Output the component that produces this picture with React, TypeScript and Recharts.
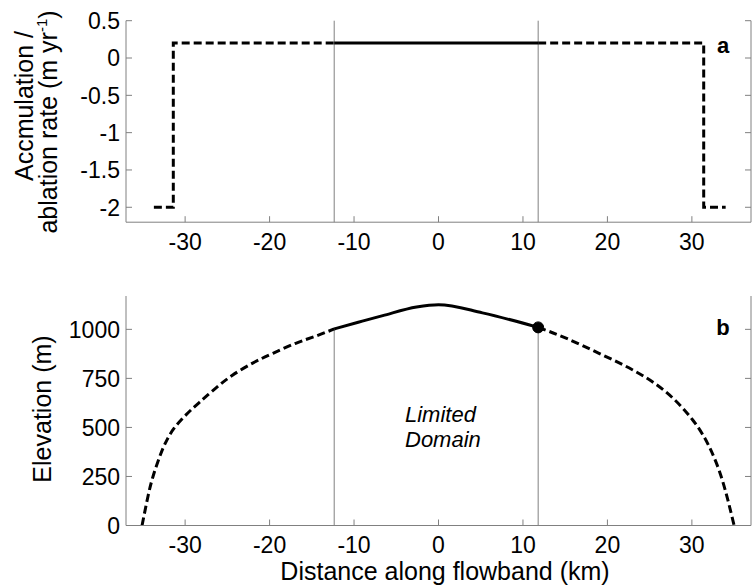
import React from 'react';
import { LineChart, Line, XAxis, YAxis, ReferenceLine, ReferenceDot } from 'recharts';

const GRAY = '#808080';
const FONT = '"Liberation Sans", Arial, Helvetica, sans-serif';

// ---- tick labels ----
const xTicks = [-30, -20, -10, 0, 10, 20, 30];
const accTicks = [-2, -1.5, -1, -0.5, 0, 0.5];
const elevTicks = [0, 250, 500, 750, 1000];

// ---- limited domain edges (km) ----
const domainEdges = [-12.35, 11.8];

// ---- panel a: accumulation / ablation rate ----
const accLeftX = [-33.7, -31.4, -31.4, -12.35];
const accLeftY = [-2, -2, 0.2, 0.2];
const accMidX = [-12.35, 11.8];
const accMidY = [0.2, 0.2];
const accRightX = [11.8, 31.4, 31.4, 34];
const accRightY = [0.2, 0.2, -2, -2];

// ---- panel b: elevation profile ----
const elevLeftX = [-35.1, -34.4, -33.8, -33.0, -32.25, -31.3, -29.9, -28.3, -26.3, -24.4, -22.0, -19.6, -16.9, -14.5, -12.35];
const elevLeftE = [0, 148, 250, 352, 428, 496, 564, 628, 703, 766, 828, 878, 929, 966, 1002];
const elevMidX = [-12.35, -9.5, -6.6, -2.6, 0, 5.2, 11.8];
const elevMidE = [1002, 1036, 1070, 1114, 1126, 1084, 1010];
const elevRightX = [11.8, 15.1, 19.0, 23.0, 26.9, 30.1, 32.05, 33.6, 35.0];
const elevRightE = [1010, 955, 878, 793, 682, 538, 402, 232, 0];

const zip = (xs: number[], ys: number[]) => xs.map((x, i) => ({ x, y: ys[i] }));

const TICK_FS = 23;

const BottomTick = (props: any) => {
  const { x, y, payload } = props;
  return (
    <g>
      <line x1={x} y1={y} x2={x} y2={y - 6} stroke={GRAY} strokeWidth={1} />
      <text x={x} y={y + 27.5} textAnchor="middle" fontSize={TICK_FS} fontFamily={FONT} fill="#000">
        {String(payload.value)}
      </text>
    </g>
  );
};
const TopTick = (props: any) => {
  const { x, y } = props;
  return <line x1={x} y1={y} x2={x} y2={y + 6} stroke={GRAY} strokeWidth={1} />;
};
const LeftTick = (props: any) => {
  const { x, y, payload } = props;
  return (
    <g>
      <line x1={x} y1={y} x2={x + 6} y2={y} stroke={GRAY} strokeWidth={1} />
      <text x={x - 6} y={y + 8.3} textAnchor="end" fontSize={TICK_FS} fontFamily={FONT} fill="#000">
        {String(payload.value)}
      </text>
    </g>
  );
};
const RightTick = (props: any) => {
  const { x, y } = props;
  return <line x1={x} y1={y} x2={x - 6} y2={y} stroke={GRAY} strokeWidth={1} />;
};

const axisLine = { stroke: GRAY, strokeWidth: 1 };

export default function App() {
  const lineStyle = { stroke: '#000', strokeWidth: 3, dot: false as const, isAnimationActive: false };
  return (
    <div style={{ position: 'absolute', left: 0, top: 0, width: 752, height: 587, background: '#fff', fontFamily: FONT }}>
      <div style={{ position: 'absolute', left: 0, top: 0 }}>
        <LineChart width={752} height={262} margin={{ top: 20.7, right: 0, bottom: 0, left: 0 }}>
          <XAxis type="number" dataKey="x" domain={[-37, 37]} ticks={xTicks} interval={0} allowDataOverflow
            height={39.8} tickSize={0} tickMargin={0} tickLine={false} axisLine={axisLine} tick={BottomTick} />
          <XAxis xAxisId="top" orientation="top" type="number" dataKey="x" domain={[-37, 37]} ticks={xTicks} interval={0} allowDataOverflow
            height={0} tickSize={0} tickMargin={0} tickLine={false} axisLine={axisLine} tick={TopTick} />
          <YAxis type="number" domain={[-2.2, 0.5]} ticks={accTicks} interval={0} allowDataOverflow
            width={126} tickSize={0} tickMargin={0} tickLine={false} axisLine={axisLine} tick={LeftTick} />
          <YAxis yAxisId="right" orientation="right" type="number" domain={[-2.2, 0.5]} ticks={accTicks} interval={0} allowDataOverflow
            width={1} tickSize={0} tickMargin={0} tickLine={false} axisLine={axisLine} tick={RightTick} />
          <ReferenceLine x={domainEdges[0]} stroke={GRAY} strokeWidth={1} />
          <ReferenceLine x={domainEdges[1]} stroke={GRAY} strokeWidth={1} />
          <Line data={zip(accLeftX, accLeftY)} dataKey="y" type="linear" strokeDasharray="8 4" {...lineStyle} />
          <Line data={zip(accMidX, accMidY)} dataKey="y" type="linear" {...lineStyle} />
          <Line data={zip(accRightX, accRightY)} dataKey="y" type="linear" strokeDasharray="8 4" {...lineStyle} />
        </LineChart>
      </div>
      <div style={{ position: 'absolute', left: 0, top: 262 }}>
        <LineChart width={752} height={325} margin={{ top: 34, right: 0, bottom: 0, left: 0 }}>
          <XAxis type="number" dataKey="x" domain={[-37, 37]} ticks={xTicks} interval={0} allowDataOverflow
            height={61.5} tickSize={0} tickMargin={0} tickLine={false} axisLine={axisLine} tick={BottomTick} />
          <XAxis xAxisId="top" orientation="top" type="number" dataKey="x" domain={[-37, 37]} ticks={xTicks} interval={0} allowDataOverflow
            height={0} tickSize={0} tickMargin={0} tickLine={false} axisLine={axisLine} tick={TopTick} />
          <YAxis type="number" domain={[0, 1170]} ticks={elevTicks} interval={0} allowDataOverflow
            width={126} tickSize={0} tickMargin={0} tickLine={false} axisLine={axisLine} tick={LeftTick} />
          <YAxis yAxisId="right" orientation="right" type="number" domain={[0, 1170]} ticks={elevTicks} interval={0} allowDataOverflow
            width={1} tickSize={0} tickMargin={0} tickLine={false} axisLine={axisLine} tick={RightTick} />
          <ReferenceLine segment={[{ x: domainEdges[0], y: 0 }, { x: domainEdges[0], y: elevMidE[0] }]} stroke={GRAY} strokeWidth={1} />
          <ReferenceLine segment={[{ x: domainEdges[1], y: 0 }, { x: domainEdges[1], y: elevRightE[0] }]} stroke={GRAY} strokeWidth={1} />
          <Line data={zip(elevLeftX, elevLeftE)} dataKey="y" type="natural" strokeDasharray="8 4" {...lineStyle} />
          <Line data={zip(elevMidX, elevMidE)} dataKey="y" type="monotone" {...lineStyle} />
          <Line data={zip(elevRightX, elevRightE)} dataKey="y" type="natural" strokeDasharray="8 4" {...lineStyle} />
          <ReferenceDot x={elevRightX[0]} y={elevRightE[0]} r={5.5} fill="#000" stroke="#000" />
        </LineChart>
      </div>
      <svg width={752} height={587} style={{ position: 'absolute', left: 0, top: 0, pointerEvents: 'none' }}>
        <g fontFamily={FONT} fill="#000">
          <text transform="translate(33,106) rotate(-90)" textAnchor="middle" fontSize={25}>Accmulation /</text>
          <text transform="translate(57,122) rotate(-90)" textAnchor="middle" fontSize={25}>
            ablation rate (m yr<tspan dy={-10} fontSize={15}>-1</tspan><tspan dy={10}>)</tspan>
          </text>
          <text transform="translate(51,409) rotate(-90)" textAnchor="middle" fontSize={25}>Elevation (m)</text>
          <text x={445} y={579.5} textAnchor="middle" fontSize={25}>Distance along flowband (km)</text>
          <text x={723} y={53.3} textAnchor="middle" fontSize={22} fontWeight="bold">a</text>
          <text x={723} y={335} textAnchor="middle" fontSize={22} fontWeight="bold">b</text>
          <text x={405} y={421.7} fontSize={22} fontStyle="italic">Limited</text>
          <text x={405} y={446.7} fontSize={22} fontStyle="italic">Domain</text>
        </g>
      </svg>
    </div>
  );
}
